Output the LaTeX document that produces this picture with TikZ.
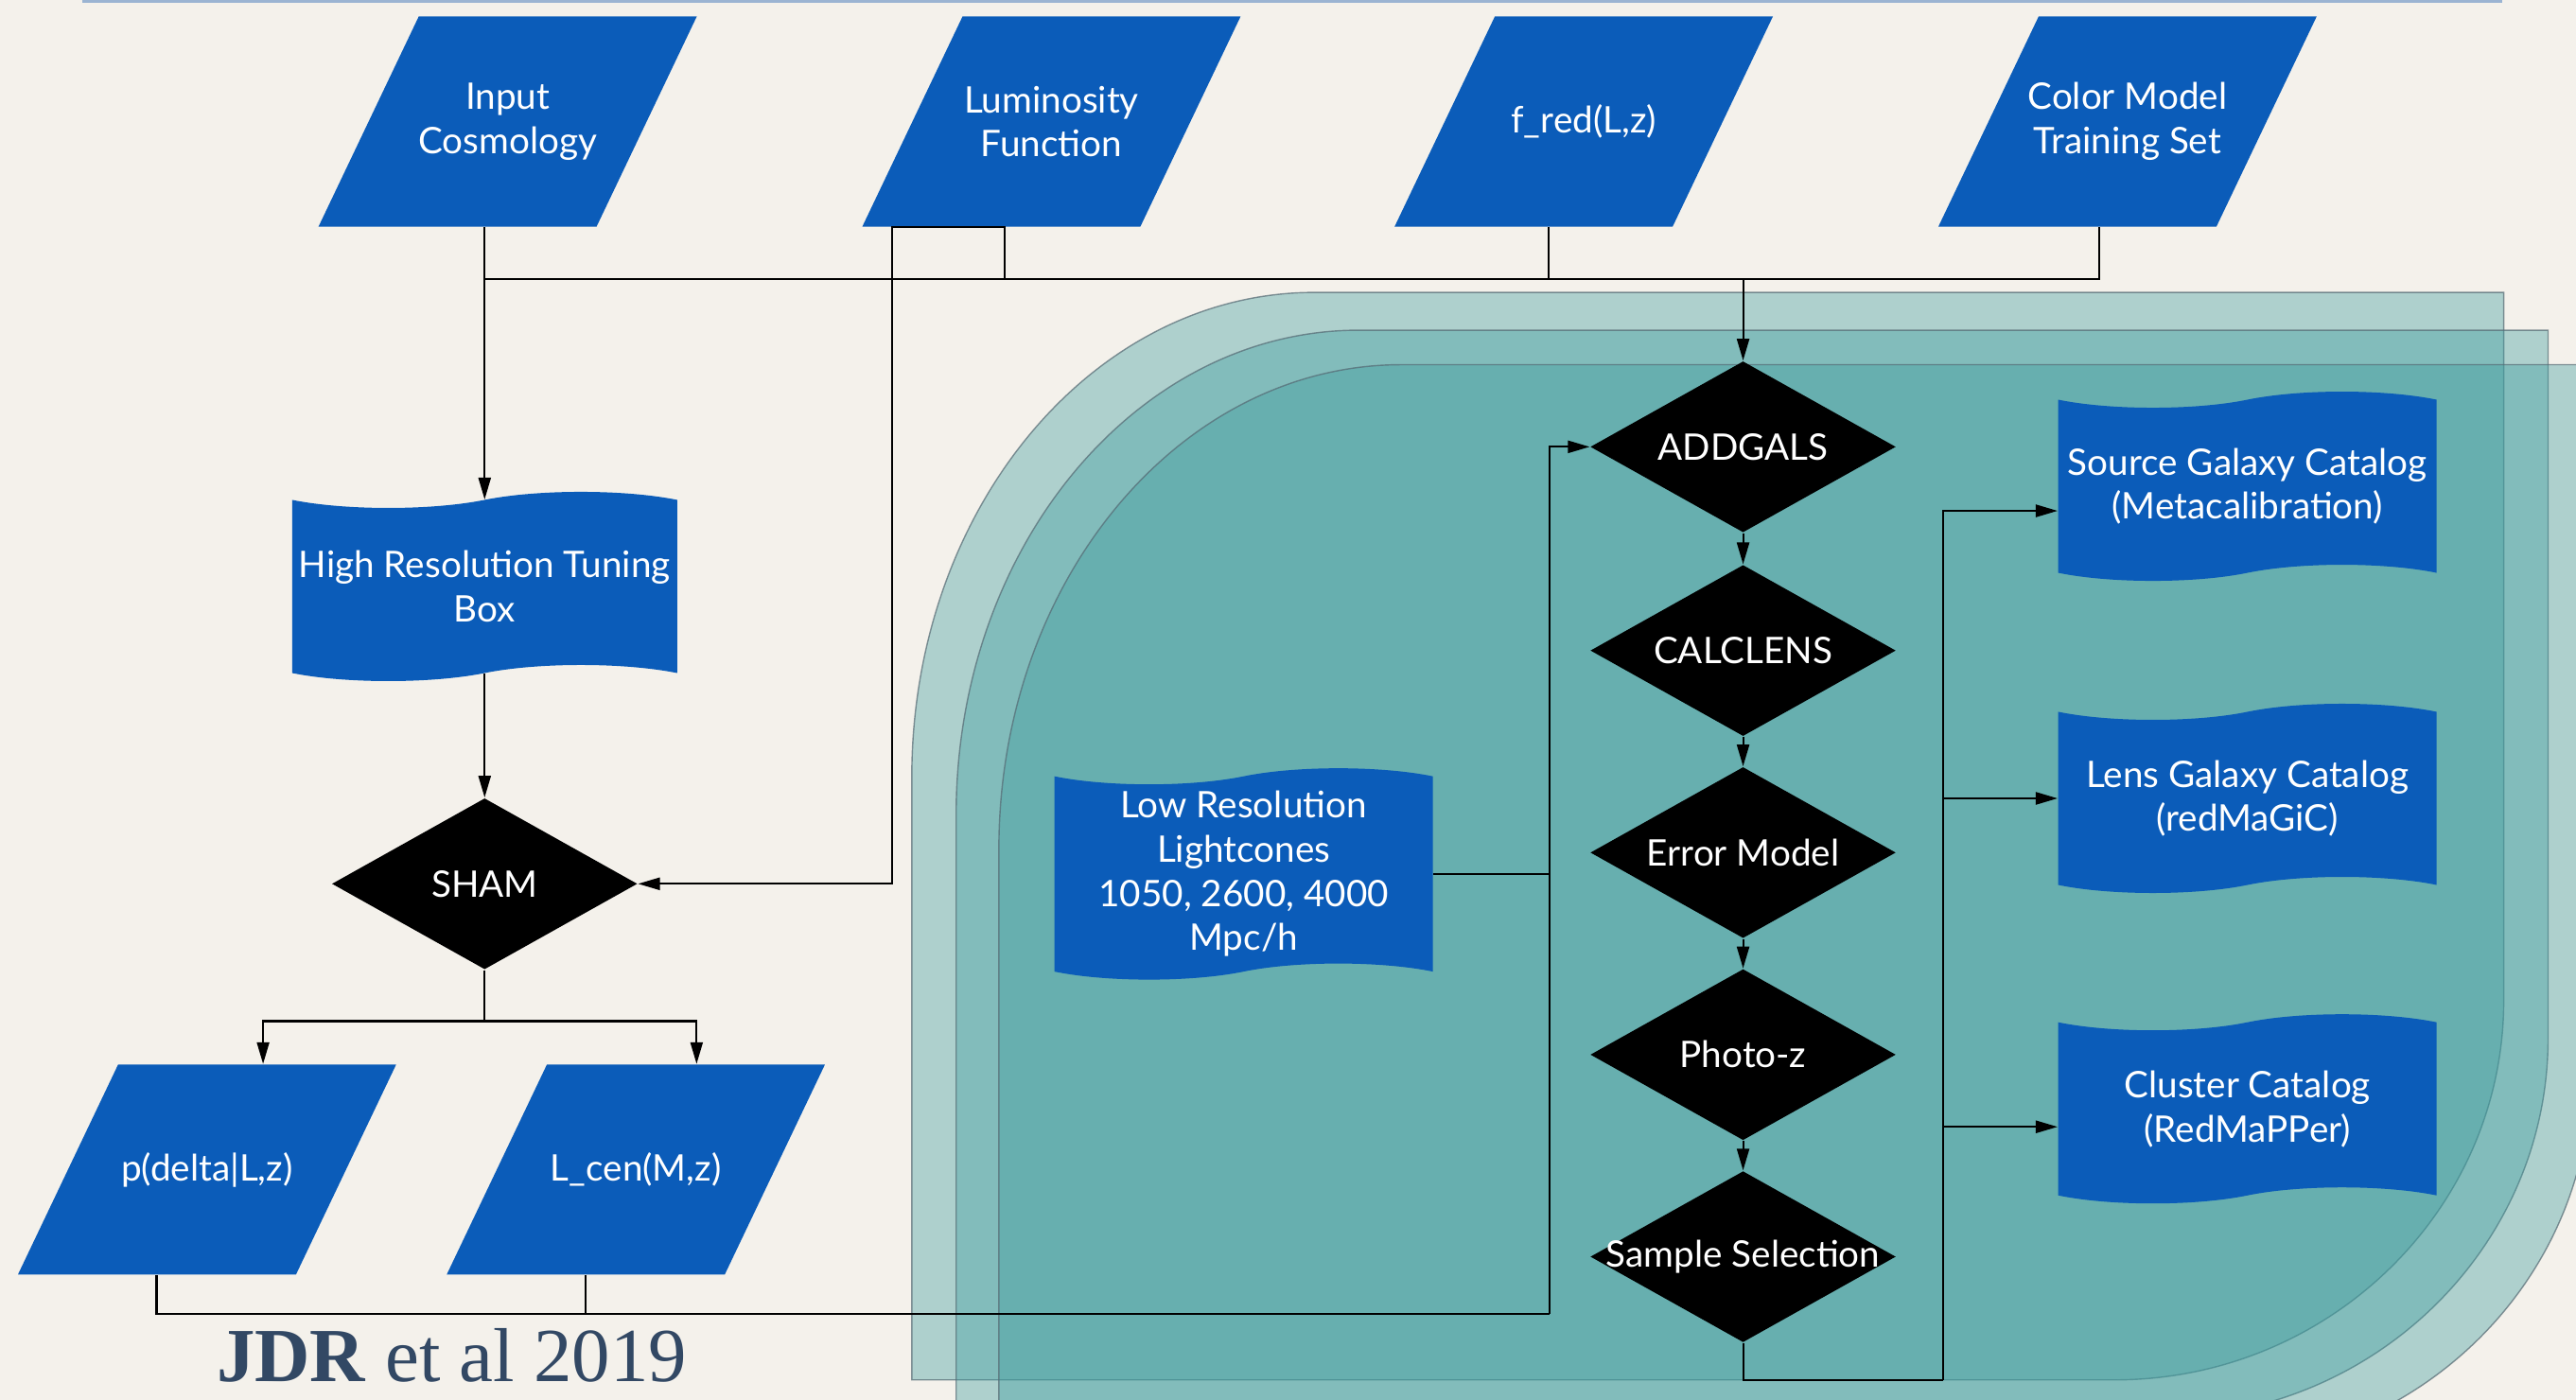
\documentclass[tikz,border=0pt]{standalone}
\usepackage{fontspec}
\setmainfont{Lato}
\newfontfamily\jdrfont{Liberation Serif}
\usetikzlibrary{shapes.geometric,shapes.symbols,arrows.meta,positioning}

\definecolor{paper}{RGB}{244,241,235}
\definecolor{docblue}{RGB}{11,92,185}
\definecolor{layerteal}{RGB}{60,156,158}
\definecolor{layeredge}{RGB}{85,105,115}
\definecolor{topline}{RGB}{155,180,210}
\definecolor{jdrblue}{RGB}{50,72,100}

\newcommand{\nowidth}[1]{\makebox[0pt]{#1}}
\newcommand{\inbox}[1]{\parbox[c][1.9cm][c]{2.9cm}{\centering #1}}

\tikzset{
  inputbox/.style={trapezium, trapezium left angle=64.5, trapezium right angle=115.5,
    fill=docblue, text=white, inner xsep=-0.51cm, inner ysep=0.16cm},
  tapebox/.style={tape, fill=docblue, text=white, align=center,
    minimum width=4cm, minimum height=2cm, tape bend height=0.17cm, inner sep=2pt},
  procbox/.style={diamond, fill=black, text=white,
    minimum width=3.23cm, minimum height=1.81cm, inner sep=0pt},
  layer/.style={fill=layerteal, fill opacity=0.38, draw=layeredge, draw opacity=0.7, line width=0.4pt},
  arr/.style={-{Triangle[length=0.23cm,width=0.13cm]}},
  conn/.style={line width=0.6pt},
}

\begin{document}
\begin{tikzpicture}[x=0.017366cm, y=-0.017366cm, font=\fontsize{11}{13.3}\selectfont]
  % page and paper
  \useasboundingbox (0,0) rectangle (1568,852);
  \fill[paper] (0,0) rectangle (1568,852);
  \draw[topline, line width=1pt] (50,1) -- (1523,1);
  \clip (0,0) rectangle (1568,852);

  % teal layers behind the pipeline
  \foreach \dx/\dy in {0/0, 27/23, 53/44} {
    \path[layer, shift={(\dx,\dy)}] (555,840) -- (555,473)
      .. controls (555,310) and (665,178) .. (800,178) -- (1524,178) -- (1524,609)
      .. controls (1524,736) and (1418,840) .. (1287,840) -- cycle;
  }

  % inputs
  \node[inputbox] (incos) at (309,74) {\inbox{Input\\Cosmology}};
  \node[inputbox] (lumfn) at (640,74) {\inbox{Luminosity\\Function}};
  \node[inputbox] (fred) at (964,74) {\inbox{f\_red(L,z)}};
  \node[inputbox] (colmod) at (1295,74) {\inbox{Color Model\\Training Set}};

  % tuning branch
  \node[tapebox] (hires) at (295,357) {High Resolution Tuning\\Box};
  \node[procbox] (sham) at (295,538) {\nowidth{SHAM}};
  \node[inputbox] (pdelta) at (126,712) {\inbox{p(delta|L,z)}};
  \node[inputbox] (lcen) at (387,712) {\inbox{L\_cen(M,z)}};

  % lightcone pipeline
  \node[tapebox, minimum height=2.12cm] (lowres) at (757,532) {Low Resolution\\Lightcones\\1050, 2600, 4000\\Mpc/h};
  \node[procbox] (addgals) at (1061,272) {\nowidth{ADDGALS}};
  \node[procbox] (calclens) at (1061,396) {\nowidth{CALCLENS}};
  \node[procbox] (errmod) at (1061,519) {\nowidth{Error Model}};
  \node[procbox] (photoz) at (1061,642) {\nowidth{Photo-z}};
  \node[procbox] (sample) at (1061,765) {\nowidth{Sample Selection}};

  % catalogs
  \node[tapebox] (source) at (1368,296) {Source Galaxy Catalog\\(Metacalibration)};
  \node[tapebox] (lens) at (1368,486) {Lens Galaxy Catalog\\(redMaGiC)};
  \node[tapebox] (cluster) at (1368,675) {Cluster Catalog\\(RedMaPPer)};

  \node[anchor=base, text=jdrblue, font=\jdrfont\fontsize{23}{27}\selectfont] (credit) at (275,841) {\textbf{JDR} et al 2019};

  % connectors
  \coordinate (busy) at (0,170);
  \coordinate (colout) at ([xshift=0.234cm]colmod.bottom side);
  \coordinate (fredout) at ([xshift=0.165cm]fred.bottom side);
  \coordinate (lumout) at ([xshift=0.04cm]lumfn.bottom side);
  \coordinate (lumsham) at ([xshift=-1.155cm]lumfn.bottom side);

  \draw[conn, arr] (incos.bottom side -| hires.north) -- (hires.north);
  \draw[conn] (hires.north |- busy) -- (colout |- busy) -- (colout);
  \draw[conn] (fredout) -- (fredout |- busy);
  \draw[conn, arr] (lumout |- busy) -- (lumout) -- (lumsham) |- (sham.east);
  \draw[conn, arr] (addgals.north |- busy) -- (addgals.north);

  \coordinate (split) at ([yshift=-0.54cm]sham.south);
  \draw[conn, arr] (hires.south) -- (sham.north);
  \draw[conn] (sham.south) -- (split);
  \draw[conn, arr] (split) -| ([xshift=0.06cm]pdelta.top side);
  \draw[conn, arr] (split) -| ([xshift=0.11cm]lcen.top side);

  \coordinate (loopy) at (943,800);
  \draw[conn] (pdelta.bottom side) |- (loopy);
  \draw[conn] (lcen.bottom side) -- (lcen.bottom side |- loopy);
  \draw[conn, arr] (loopy) |- (addgals.west);
  \draw[conn] (lowres.east) -- (lowres.east -| loopy);

  \foreach \a/\b in {addgals/calclens, calclens/errmod, errmod/photoz, photoz/sample}
    \draw[conn, arr] (\a.south) -- (\b.north);

  \coordinate (outy) at (1183,840);
  \draw[conn] (sample.south) |- (outy);
  \draw[conn, arr] (outy) |- ([yshift=-0.26cm]source.west);
  \draw[conn, arr] (outy) |- (lens.west);
  \draw[conn, arr] (outy) |- ([yshift=-0.19cm]cluster.west);
\end{tikzpicture}
\end{document}
